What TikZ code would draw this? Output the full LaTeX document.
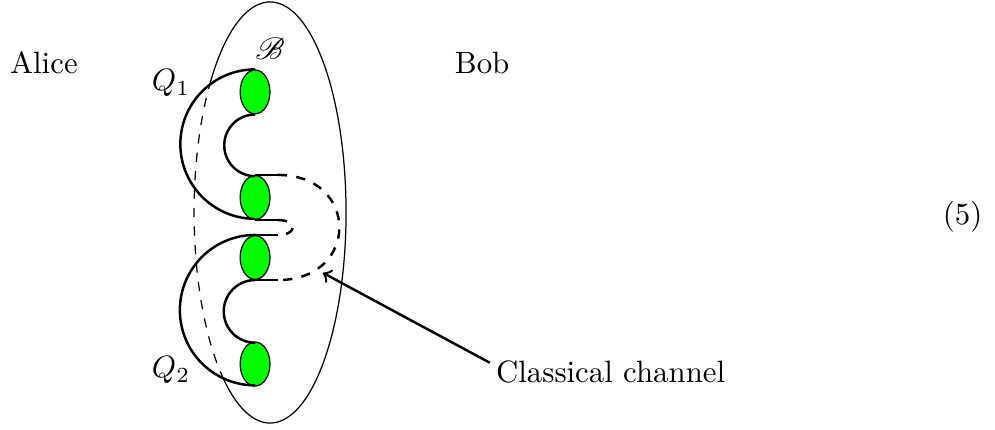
\documentclass[tikz,border=0pt]{standalone}
\usepackage{amsmath}
\usepackage{mathrsfs}
\usetikzlibrary{shapes.geometric}

\begin{document}
\begin{tikzpicture}[
  qubit/.style={ellipse, draw, fill=green, minimum width=0.34cm, minimum height=0.5cm, inner sep=0pt},
  wire/.style={thick}
]

% Define dimensions
\def\labx{3.078}
\def\laby{2.468}
\def\labw{0.866}
\def\labh{2.40}
\def\stub{0.26}

\useasboundingbox (0,0) rectangle (11.34,4.89);

% Bob's lab, dashed where the wires pass behind it
\draw (\labx,\laby) ++(-129.5:\labw cm and \labh cm) arc[start angle=-129.5, end angle=141, x radius=\labw cm, y radius=\labh cm];
\draw[dashed] (\labx,\laby) ++(141:\labw cm and \labh cm) arc[start angle=141, end angle=230.5, x radius=\labw cm, y radius=\labh cm];

% Qubits
\node[qubit] (b1) at (2.907,3.842) {};
\node[qubit] (b2) at (2.907,2.639) {};
\node[qubit] (b3) at (2.907,1.955) {};
\node[qubit] (b4) at (2.907,0.741) {};

% Wires on Alice's side (half circles)
\draw[wire] (b1.north) arc[start angle=90, end angle=270, radius=0.8515];
\draw[wire] (b1.south) arc[start angle=90, end angle=270, radius=0.3515];
\draw[wire] (b3.north) arc[start angle=90, end angle=270, radius=0.857];
\draw[wire] (b3.south) arc[start angle=90, end angle=270, radius=0.357];

% Short stubs and the classical links
\draw[wire] (b2.north) -- ++(\stub,0) coordinate (r1);
\draw[wire] (b2.south) -- ++(\stub,0) coordinate (r2);
\draw[wire] (b3.north) -- ++(\stub,0) coordinate (r3);
\draw[wire] (b3.south) -- ++(\stub,0) coordinate (r4);
\draw[wire, dashed] (r1) to[out=0, in=0, looseness=2] (r4);
\draw[wire, dashed] (r2) to[out=0, in=0, looseness=3.4] (r3);

% Labels
\node (alice) at (0.50,4.18) {Alice};
\node (bob) at (5.495,4.17) {Bob};
\node (labname) at (3.078,4.33) {$\mathscr{B}$};
\node (q1) at (1.95,3.94) {$Q_1$};
\node (q2) at (1.95,0.67) {$Q_2$};
\node (eqno) at (10.97,2.42) {(5)};

% Classical channel pointer
\node[anchor=west] (cc) at (5.53,0.65) {Classical channel};
\coordinate (tip) at (3.68,1.78);
\draw[thick, ->] ([xshift=1.5pt, yshift=3pt]cc.west) -- (tip);
\end{tikzpicture}
\end{document}
